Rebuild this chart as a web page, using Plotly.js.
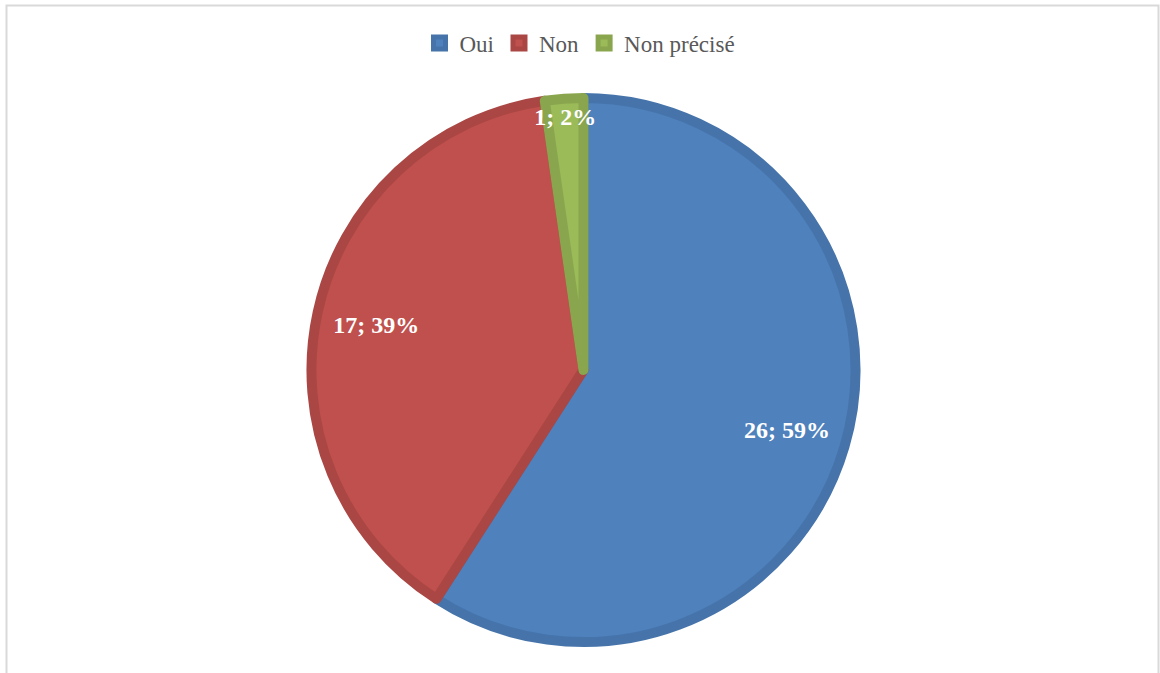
<!DOCTYPE html>
<html>
<head>
<meta charset="utf-8">
<script src="https://cdn.plot.ly/plotly-3.0.1.min.js"></script>
<style>html,body{margin:0;padding:0;background:#fff;}#chart{width:1160px;height:673px;}</style>
</head>
<body>
<div id="chart"></div>
<script>
const labels = ["Oui", "Non", "Non précisé"];
const values = [26, 17, 1];
const fillColors = ["#4F81BD", "#C0504D", "#9BBB59"];
const edgeColors = ["#4674AA", "#AA4744", "#89A64F"];

const pieDomain = { x: [0.106, 0.9], y: [0.046, 0.8544] };
const labelFont = { family: "Liberation Serif, Times New Roman, serif", size: 24, color: "#ffffff", weight: "bold" };

const slices = {
  type: "pie",
  labels: labels,
  values: values,
  sort: false,
  direction: "clockwise",
  rotation: 0,
  marker: { colors: fillColors, line: { color: edgeColors, width: 10 } },
  texttemplate: "%{value}; %{percent:.0%}",
  textposition: ["none", "none", "inside"],
  insidetextorientation: "horizontal",
  textfont: labelFont,
  hoverinfo: "none",
  domain: pieDomain
};

// transparent ring overlay used only to place the large slices' labels
const labelRing = {
  type: "pie",
  labels: labels,
  values: values,
  sort: false,
  direction: "clockwise",
  rotation: 0,
  hole: 0.56,
  showlegend: false,
  marker: { colors: ["rgba(0,0,0,0)", "rgba(0,0,0,0)", "rgba(0,0,0,0)"], line: { width: 0 } },
  texttemplate: "%{value}; %{percent:.0%}",
  textposition: ["inside", "inside", "none"],
  insidetextorientation: "horizontal",
  textfont: labelFont,
  hoverinfo: "none",
  domain: pieDomain
};

const layout = {
  width: 1160,
  height: 673,
  margin: { l: 0, r: 0, t: 0, b: 0 },
  paper_bgcolor: "#ffffff",
  showlegend: true,
  uniformtext: { mode: "show", minsize: 24 },
  legend: {
    orientation: "h",
    x: 0.5, xanchor: "center",
    y: 0.936, yanchor: "middle",
    font: { family: "Liberation Serif, Times New Roman, serif", size: 23, color: "#595959" },
    itemwidth: 30,
    tracegroupgap: 0
  },
  shapes: [{
    type: "rect", xref: "paper", yref: "paper",
    x0: 6.5/1160, x1: 1158.5/1160, y0: -0.05, y1: 1 - 5.5/673,
    line: { color: "#d9d9d9", width: 2 }
  }]
};

Plotly.newPlot("chart", [slices, labelRing], layout, { displayModeBar: false, staticPlot: true });
</script>
</body>
</html>
